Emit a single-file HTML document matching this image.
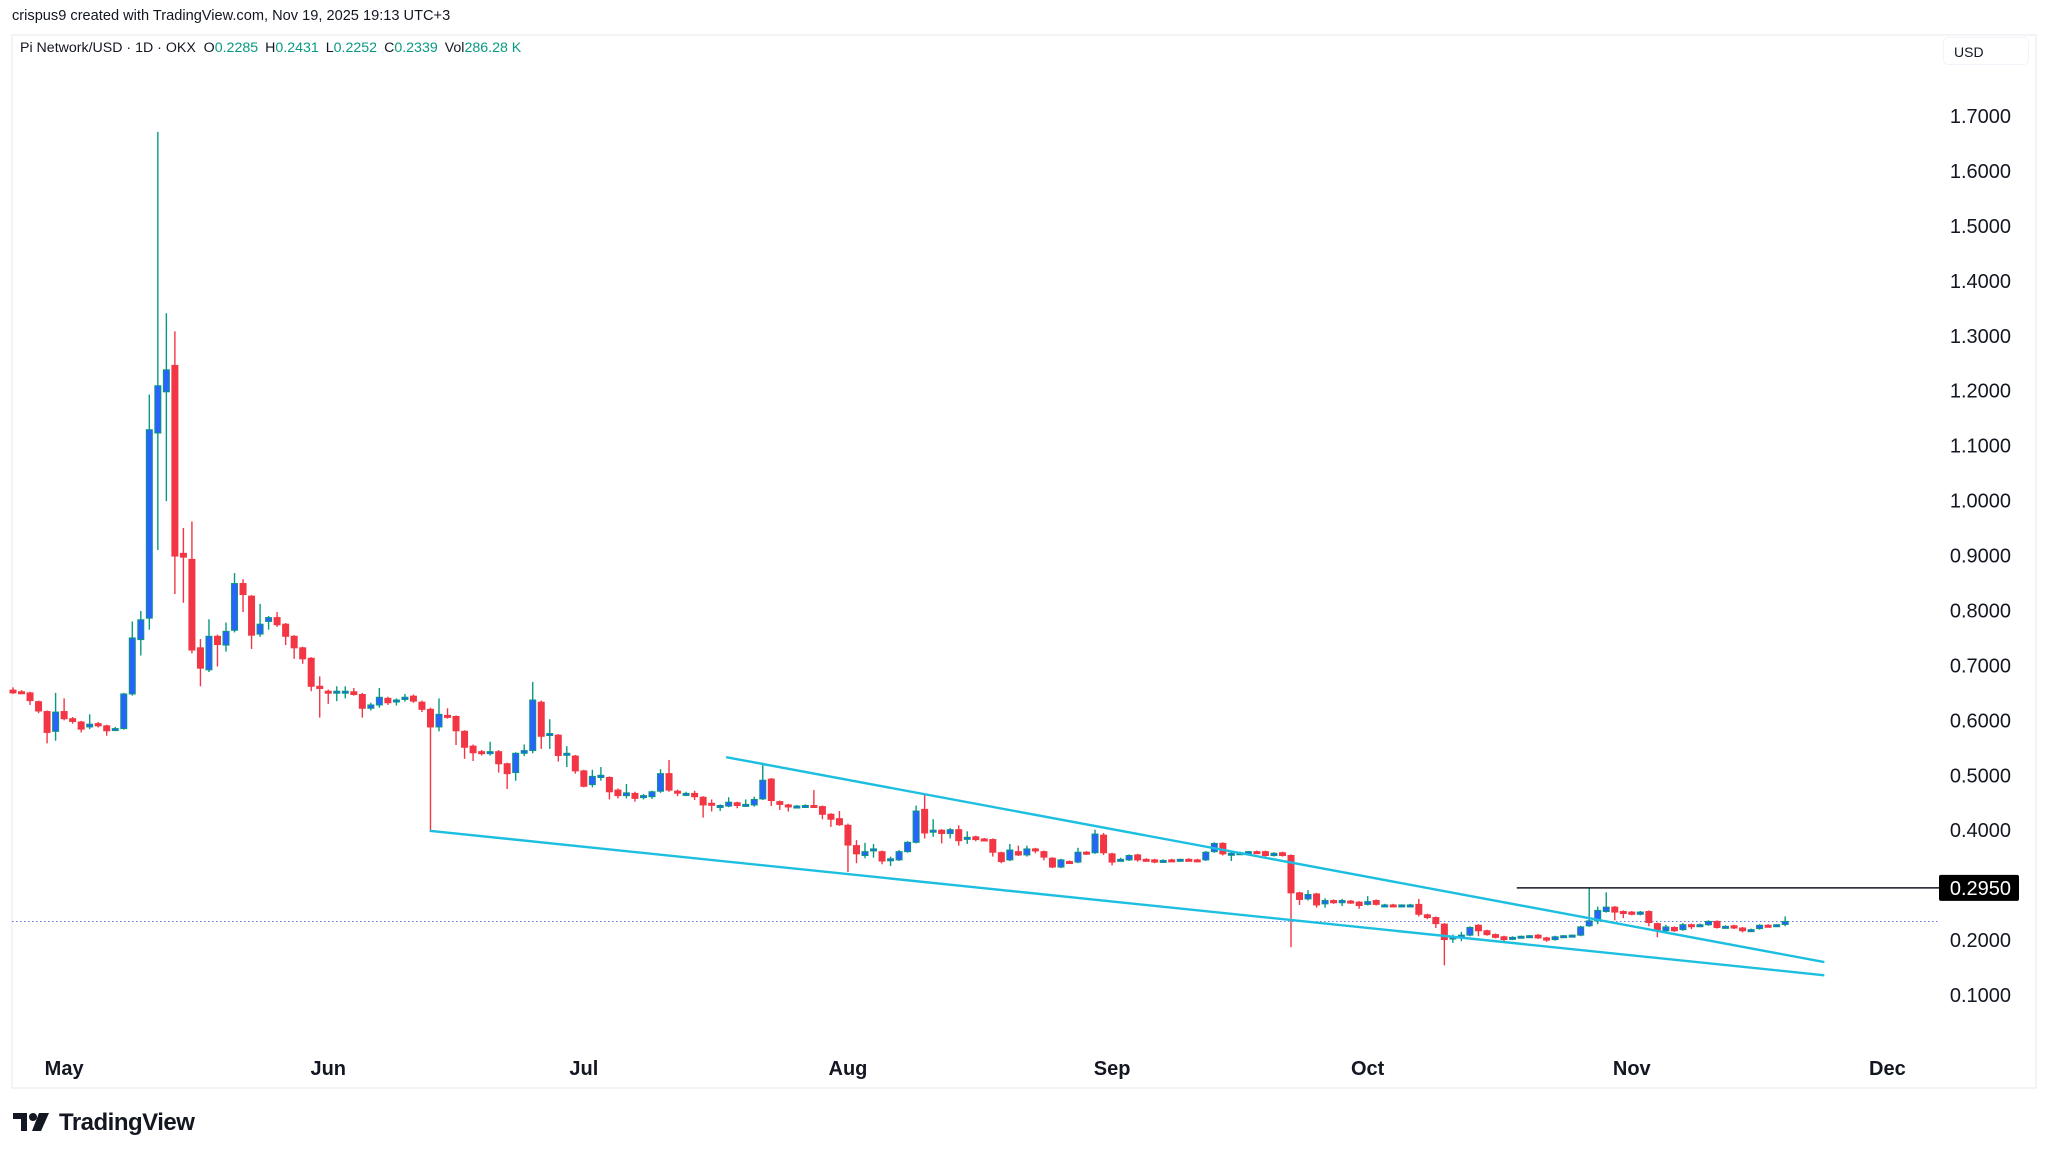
<!DOCTYPE html>
<html><head><meta charset="utf-8">
<style>
html,body{margin:0;padding:0;background:#fff;}
body{width:2048px;height:1158px;position:relative;overflow:hidden;font-family:"Liberation Sans",sans-serif;color:#131722;}
#hdr{position:absolute;left:12px;top:8px;font-size:14.6px;color:#131722;}
#legend{position:absolute;left:20px;top:40px;font-size:14.2px;color:#131722;white-space:nowrap;}
#legend .v{color:#089981;margin-right:7px;}
#usd{position:absolute;left:1943px;top:37px;width:86px;height:28px;border:1px solid #f0f3fa;border-radius:5px;font-size:14px;line-height:28px;padding-left:10px;box-sizing:border-box;}
#logo{position:absolute;left:13px;top:1109px;font-size:24px;font-weight:bold;color:#131722;letter-spacing:-0.5px;}
svg{position:absolute;left:0;top:0;}
</style></head>
<body>
<div id="hdr">crispus9 created with TradingView.com, Nov 19, 2025 19:13 UTC+3</div>
<div id="legend">Pi Network/USD · 1D · OKX &nbsp;O<span class="v">0.2285</span>H<span class="v">0.2431</span>L<span class="v">0.2252</span>C<span class="v">0.2339</span>Vol<span class="v">286.28 K</span></div>
<div id="usd">USD</div>
<svg id="chart" width="2048" height="1158"></svg>
<div id="logo"><svg width="40" height="22" viewBox="0 0 40 22" style="position:relative;vertical-align:-3px;margin-right:6px"><path d="M0 2h14v18H8V8H0z" fill="#131722"/><circle cx="20" cy="6" r="4" fill="#131722"/><path d="M26 2h10l-8 18h-9z" fill="#131722"/></svg>TradingView</div>
<script>
const opens=[.655,.652,.650,.634,.616,.580,.616,.603,.597,.588,.594,.590,.585,.585,.648,.747,.786,1.123,1.198,1.246,.904,.893,.732,.692,.753,.737,.764,.849,.826,.757,.780,.787,.775,.753,.732,.713,.662,.653,.652,.652,.652,.647,.622,.628,.640,.636,.638,.644,.633,.620,.588,.609,.607,.580,.553,.543,.541,.543,.521,.505,.540,.545,.633,.576,.573,.538,.535,.508,.483,.496,.496,.473,.463,.467,.461,.461,.471,.503,.471,.466,.467,.460,.449,.445,.444,.450,.446,.446,.457,.493,.452,.446,.443,.444,.445,.443,.429,.421,.409,.372,.354,.365,.361,.347,.346,.361,.378,.438,.399,.400,.394,.401,.386,.388,.384,.383,.359,.346,.361,.355,.366,.361,.349,.333,.343,.342,.360,.359,.391,.357,.346,.346,.355,.347,.346,.344,.346,.346,.347,.346,.346,.361,.376,.356,.358,.359,.361,.361,.354,.359,.354,.286,.275,.284,.266,.272,.268,.271,.269,.265,.272,.263,.264,.263,.263,.265,.246,.241,.229,.202,.204,.209,.227,.217,.210,.206,.202,.206,.207,.209,.204,.201,.206,.208,.209,.226,.235,.252,.260,.252,.251,.247,.252,.230,.217,.223,.219,.228,.227,.228,.234,.224,.226,.222,.218,.221,.227,.226,.2285];
const highs=[.660,.655,.652,.636,.618,.650,.640,.606,.599,.611,.597,.592,.588,.650,.780,.799,1.193,1.671,1.341,1.308,.950,.962,.748,.784,.756,.778,.868,.857,.828,.812,.790,.797,.777,.755,.734,.715,.680,.656,.662,.662,.659,.650,.632,.659,.643,.640,.648,.647,.636,.623,.640,.622,.609,.582,.556,.546,.561,.546,.523,.542,.556,.670,.636,.602,.575,.553,.537,.510,.510,.515,.498,.476,.484,.470,.466,.472,.511,.528,.474,.470,.472,.462,.456,.447,.460,.452,.456,.461,.523,.495,.454,.448,.446,.447,.473,.445,.431,.435,.412,.382,.377,.375,.363,.352,.364,.380,.445,.467,.420,.402,.404,.409,.398,.390,.386,.385,.361,.375,.372,.372,.368,.363,.351,.348,.345,.368,.362,.401,.395,.359,.350,.356,.357,.349,.348,.347,.348,.348,.349,.348,.362,.378,.378,.360,.361,.362,.363,.363,.360,.361,.356,.288,.291,.286,.276,.274,.275,.273,.271,.280,.274,.266,.266,.265,.266,.275,.248,.243,.231,.210,.215,.225,.229,.219,.212,.208,.207,.208,.209,.211,.206,.208,.209,.210,.226,.295,.261,.287,.262,.254,.253,.253,.254,.232,.228,.225,.231,.230,.230,.236,.236,.227,.228,.224,.221,.229,.229,.229,.2431];
const lows=[.648,.648,.628,.613,.558,.563,.600,.594,.578,.584,.587,.572,.582,.583,.645,.718,.765,.910,.999,.830,.814,.722,.662,.688,.698,.725,.760,.797,.730,.752,.765,.770,.737,.712,.703,.653,.605,.630,.635,.640,.645,.605,.618,.623,.628,.627,.634,.632,.615,.399,.580,.603,.555,.530,.526,.536,.536,.505,.475,.490,.535,.540,.548,.548,.525,.515,.503,.478,.478,.490,.456,.458,.458,.452,.456,.457,.468,.470,.462,.462,.455,.423,.434,.435,.442,.440,.443,.443,.455,.444,.437,.434,.440,.441,.441,.420,.406,.408,.324,.340,.349,.350,.338,.335,.344,.359,.376,.385,.388,.376,.385,.372,.375,.380,.380,.352,.340,.344,.353,.352,.358,.345,.331,.331,.340,.340,.355,.357,.355,.336,.343,.344,.343,.343,.340,.342,.343,.343,.344,.343,.344,.359,.354,.344,.355,.356,.358,.352,.352,.352,.187,.264,.272,.259,.259,.266,.262,.266,.257,.263,.263,.260,.261,.261,.261,.243,.238,.222,.154,.195,.198,.207,.207,.208,.203,.196,.200,.204,.205,.202,.197,.199,.204,.206,.207,.224,.229,.250,.236,.240,.245,.245,.225,.205,.212,.215,.217,.220,.225,.226,.221,.222,.220,.214,.216,.219,.224,.224,.2252];
const closes=[.650,.650,.636,.617,.578,.615,.603,.598,.584,.593,.590,.581,.585,.648,.750,.783,1.129,1.209,1.238,.899,.897,.728,.695,.753,.738,.762,.849,.829,.755,.775,.787,.774,.753,.732,.712,.662,.658,.652,.653,.653,.647,.622,.628,.642,.632,.637,.642,.635,.620,.588,.611,.607,.581,.551,.541,.540,.543,.521,.503,.540,.545,.637,.571,.576,.536,.540,.508,.480,.498,.500,.470,.463,.468,.458,.463,.470,.503,.473,.468,.467,.461,.446,.446,.445,.451,.445,.447,.456,.491,.454,.447,.443,.444,.445,.443,.429,.420,.410,.373,.357,.361,.366,.344,.348,.361,.378,.435,.395,.400,.394,.401,.381,.387,.383,.383,.360,.343,.364,.355,.366,.363,.351,.333,.346,.342,.360,.359,.393,.359,.342,.347,.354,.346,.346,.342,.345,.345,.347,.346,.345,.360,.376,.357,.358,.359,.361,.360,.354,.358,.354,.286,.274,.283,.264,.272,.268,.272,.269,.263,.270,.265,.264,.263,.264,.264,.247,.241,.230,.201,.206,.209,.223,.217,.210,.205,.201,.205,.207,.208,.204,.200,.206,.208,.209,.224,.235,.254,.260,.251,.251,.247,.251,.232,.218,.224,.217,.228,.227,.228,.234,.223,.225,.222,.217,.219,.227,.226,.228,.2339];
const priceTicks=[0.1,0.2,0.3,0.4,0.5,0.6,0.7,0.8,0.9,1.0,1.1,1.2,1.3,1.4,1.5,1.6,1.7];
const monthLabels=["May","Jun","Jul","Aug","Sep","Oct","Nov","Dec"];
const monthDayIndex=[6,37,67,98,129,159,190,220];
const upperTrend=[[83.7,0.533],[212.6,0.160]];
const lowerTrend=[[48.9,0.399],[212.6,0.136]];
const resistanceLevel=0.295, resistanceStart=176.5;
const lastPrice=0.2339;

const svg=document.getElementById('chart');
const NS='http://www.w3.org/2000/svg';
const xs=i=>13+i*8.52;
const ys=p=>116+(1.7-p)*549.4;
function mk(tag,attrs,parent){const e=document.createElementNS(NS,tag);for(const k in attrs)e.setAttribute(k,attrs[k]);(parent||svg).appendChild(e);return e;}

const frame=mk('rect',{x:12,y:35,width:2024,height:1053,fill:'none',stroke:'#eef0f4','stroke-width':1.5});



priceTicks.forEach(t=>{
  const tx=mk('text',{x:2011,y:ys(t)+7,'text-anchor':'end','font-size':20,fill:'#131722','font-family':'Liberation Sans, sans-serif'});
  tx.textContent=t.toFixed(4);
  
  
});
monthLabels.forEach((m,k)=>{
  const tx=mk('text',{x:xs(monthDayIndex[k]),y:1075,'text-anchor':'middle','font-size':20,'font-weight':'bold',fill:'#131722','font-family':'Liberation Sans, sans-serif'});
  tx.textContent=m;
  
  
});

const lp=mk('line',{x1:12,x2:1938,y1:ys(lastPrice),y2:ys(lastPrice),stroke:'#5b7be0','stroke-width':1,'stroke-dasharray':'1.5 2.5'});



const g=mk('g',{});


for(let i=0;i<opens.length;i++){
  const o=opens[i],h=highs[i],l=lows[i],c=closes[i],up=c>=o;
  const x=xs(i);
  const wick=mk('line',{x1:x,x2:x,y1:ys(h),y2:ys(l),stroke:up?'#089981':'#f23645','stroke-width':1.4},g);
  
  
  const top=ys(Math.max(o,c)),bh=Math.max(2,Math.abs(ys(o)-ys(c)));
  const body=mk('rect',{x:x-3,y:top,width:6,height:bh,fill:up?'#2962ff':'#f23645',stroke:up?'#089981':'#f23645','stroke-width':1},g);
  
  
}

[[upperTrend,'upper-trendline'],[lowerTrend,'lower-trendline']].forEach(([t,n])=>{
  const ln=mk('line',{x1:xs(t[0][0]),y1:ys(t[0][1]),x2:xs(t[1][0]),y2:ys(t[1][1]),stroke:'#1cbfe0','stroke-width':2.4});
  
  
});

const rl=mk('line',{x1:xs(resistanceStart),x2:1940,y1:ys(resistanceLevel),y2:ys(resistanceLevel),stroke:'#131722','stroke-width':1.5});


const rb=mk('rect',{x:1939,y:ys(resistanceLevel)-13,width:80,height:26,rx:2,fill:'#000'});


const rt=mk('text',{x:2011,y:ys(resistanceLevel)+7,'text-anchor':'end','font-size':20,fill:'#fff','font-family':'Liberation Sans, sans-serif'});
rt.textContent=resistanceLevel.toFixed(4);


</script>
</body></html>
